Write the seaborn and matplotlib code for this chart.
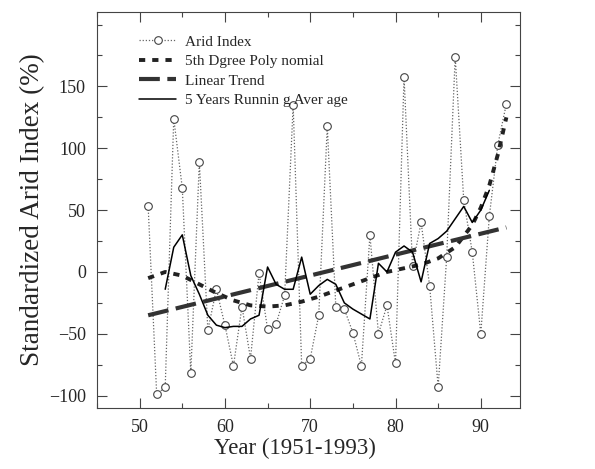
import matplotlib
matplotlib.use('Agg')
import matplotlib.pyplot as plt
import pandas as pd
import seaborn as sns
from matplotlib.ticker import MultipleLocator

# Arid index (years 1951-1993, shown as 51..93)
years = list(range(51, 94))
arid_index = [53, -99, -93, 124, 68, -82, 89, -47, -14, -43,
              -76, -28, -70, -1, -46, -42, -19, 135, -76, -70,
              -35, 118, -28, -30, -49, -76, 30, -50, -27, -74,
              158, 5, 40, -11, -93, 12, 174, 58, 16, -50,
              45, 103, 136]

# 5 years running average (solid line), as drawn
avg_years = list(range(53, 92))
running_avg = [-14, 20, 30, -3, -18, -35, -43, -45, -44, -44,
               -38, -35, 4, -10, -14, -14, 12, -18, -11, -6,
               -10, -25, -30, -34, -38, 7, 0, 16, 21, 16,
               -8, 23, 27, 33, 43, 53, 40, 50, 66]

# 5th degree polynomial curve, as drawn
poly_years = [51, 53, 55, 57, 59, 61, 63, 65, 67, 69, 71, 73, 75, 77,
              79, 81, 83, 85, 87, 89, 90, 91, 92, 93]
poly_values = [-5, 0, -3, -10, -17, -23, -27, -28, -27, -24, -20, -15, -10, -5,
               0, 3, 6, 11, 20, 38, 52, 70, 95, 125]

# Linear trend end points
trend_years = [51, 93]
trend_values = [-35, 36]

df = pd.DataFrame({'year': years, 'arid': arid_index})
df_avg = pd.DataFrame({'year': avg_years, 'avg': running_avg})
df_poly = pd.DataFrame({'year': poly_years, 'poly': poly_values})
df_trend = pd.DataFrame({'year': trend_years, 'trend': trend_values})

sns.set_theme(style='ticks')
plt.rcParams['font.family'] = ['Liberation Serif', 'DejaVu Serif']

fig = plt.figure(figsize=(5.95, 4.69), dpi=100)
ax = fig.add_axes([0.163, 0.13, 0.711, 0.844])

sns.lineplot(data=df, x='year', y='arid', ax=ax, color='#666666',
             linestyle=(0, (1, 1.5)), linewidth=0.9,
             marker='o', markersize=5.5, markerfacecolor='white',
             markeredgecolor='#444444', markeredgewidth=0.8,
             label='Arid Index')
sns.lineplot(data=df_poly, x='year', y='poly', ax=ax, color='#222222',
             linestyle=(0, (1.6, 1.8)), linewidth=2.8,
             label='5th Dgree Poly nomial')
sns.lineplot(data=df_trend, x='year', y='trend', ax=ax, color='#333333',
             linestyle=(0, (5, 1.8)), linewidth=3,
             label='Linear Trend')
sns.lineplot(data=df_avg, x='year', y='avg', ax=ax, color='black',
             linewidth=1.1, label='5 Years Runnin g Aver age')

ax.set_xlim(45, 94.6)
ax.set_ylim(-110, 210)
ax.set_xticks([50, 60, 70, 80, 90])
ax.set_yticks([-100, -50, 0, 50, 100, 150])
ax.set_yticklabels(['\u2212100', '\u221250', '0', '50', '100', '150'])
ax.xaxis.set_minor_locator(MultipleLocator(5))
ax.yaxis.set_minor_locator(MultipleLocator(25))
ax.tick_params(which='both', direction='in', top=True, right=True,
               labelsize=13, color='#444444', width=0.8)
ax.tick_params(which='major', length=7, pad=8)
ax.tick_params(which='minor', length=3.5)
for s in ax.spines.values():
    s.set_linewidth(0.8)
    s.set_color('#444444')

ax.set_xlabel('Year (1951-1993)', fontsize=16.5)
ax.xaxis.set_label_coords(0.468, -0.076)
ax.set_ylabel('Standardized Arid Index (%)', fontsize=19.5, labelpad=3)

ax.legend(loc='upper left', bbox_to_anchor=(0.086, 0.958), frameon=False,
          fontsize=11, handlelength=2.4, labelspacing=0.38,
          handletextpad=0.6, borderaxespad=0)

fig.savefig('out.png', dpi=100)
